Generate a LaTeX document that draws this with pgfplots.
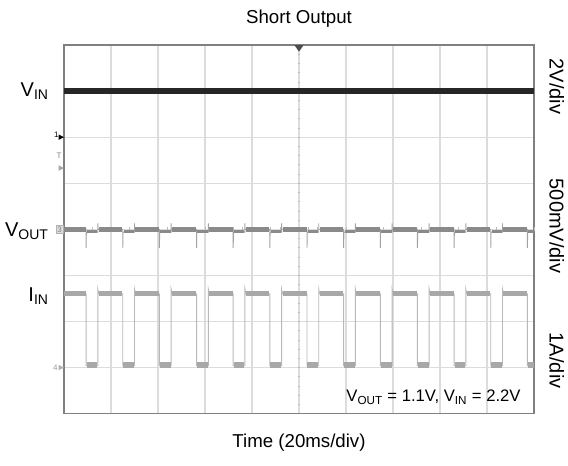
\documentclass[border=0pt]{standalone}
\usepackage{fontspec}
\setmainfont{Liberation Sans}
\usepackage{pgfplots}
\pgfplotsset{compat=1.18}
\definecolor{gridgray}{HTML}{DCDCDC}
\definecolor{framegray}{HTML}{808080}
\definecolor{vinblack}{HTML}{262626}
\definecolor{voutgray}{HTML}{8A8A8A}
\definecolor{iingray}{HTML}{A8A8A8}
\definecolor{edgegray}{HTML}{B8B8B8}

\begin{document}
\begin{tikzpicture}
\begin{axis}[
  name=ax, scale only axis,
  width=352.5pt, height=276.5pt,
  xmin=0, xmax=10, ymin=0, ymax=8,
  xtick={1,...,9}, ytick={1,...,7},
  xticklabels={}, yticklabels={},
  major tick length=0pt,
  grid=major, grid style={gridgray, line width=0.8pt},
  axis line style={framegray, line width=1pt},
  clip=false,
  unbounded coords=jump,
  line cap=butt,
]
% scope centre-line ticks (graticule)
\pgfplotsinvokeforeach{0.2,0.4,...,7.9}{
  \draw[gridgray!85!black, line width=0.5pt] (axis cs:4.97,#1) -- (axis cs:5.03,#1);
}
\pgfplotsinvokeforeach{0.2,0.4,...,9.9}{
  \draw[gridgray!85!black, line width=0.5pt] (axis cs:#1,3.96) -- (axis cs:#1,4.04);
}

% V_IN
\addplot[vinblack, line width=4.2pt] coordinates {(0,7) (10,7)};

% V_OUT thin trace
\addplot[voutgray!80, line width=0.7pt] coordinates {
  (0,4) (0.47,4) (0.47,3.6) (0.475,3.94) (0.72,3.94) (0.72,4.13) (0.72,4)
  (1.25,4) (1.25,3.6) (1.255,3.94) (1.50,3.94) (1.50,4.13) (1.50,4)
  (2.03,4) (2.03,3.6) (2.035,3.94) (2.28,3.94) (2.28,4.13) (2.28,4)
  (2.82,4) (2.82,3.6) (2.825,3.94) (3.07,3.94) (3.07,4.13) (3.07,4)
  (3.60,4) (3.60,3.6) (3.605,3.94) (3.85,3.94) (3.85,4.13) (3.85,4)
  (4.38,4) (4.38,3.6) (4.385,3.94) (4.63,3.94) (4.63,4.13) (4.63,4)
  (5.17,4) (5.17,3.6) (5.175,3.94) (5.42,3.94) (5.42,4.13) (5.42,4)
  (5.95,4) (5.95,3.6) (5.955,3.94) (6.20,3.94) (6.20,4.13) (6.20,4)
  (6.73,4) (6.73,3.6) (6.735,3.94) (6.98,3.94) (6.98,4.13) (6.98,4)
  (7.52,4) (7.52,3.6) (7.525,3.94) (7.77,3.94) (7.77,4.13) (7.77,4)
  (8.30,4) (8.30,3.6) (8.305,3.94) (8.55,3.94) (8.55,4.13) (8.55,4)
  (9.08,4) (9.08,3.6) (9.085,3.94) (9.33,3.94) (9.33,4.13) (9.33,4)
  (9.86,4) (9.86,3.6) (9.865,3.94) (10,3.94)
};
% V_OUT thick band
\addplot[voutgray, line width=3.8pt] coordinates {
  (0,4) (0.46,4) (nan,nan) (0.74,4) (1.24,4) (nan,nan)
  (1.52,4) (2.02,4) (nan,nan) (2.30,4) (2.81,4) (nan,nan)
  (3.09,4) (3.59,4) (nan,nan) (3.87,4) (4.37,4) (nan,nan)
  (4.65,4) (5.16,4) (nan,nan) (5.44,4) (5.94,4) (nan,nan)
  (6.22,4) (6.72,4) (nan,nan) (7.00,4) (7.51,4) (nan,nan)
  (7.79,4) (8.29,4) (nan,nan) (8.57,4) (9.07,4) (nan,nan)
  (9.35,4) (9.85,4)
};
\addplot[voutgray, line width=2.6pt] coordinates {
  (0.49,3.95) (0.71,3.95) (nan,nan) (1.27,3.95) (1.49,3.95) (nan,nan)
  (2.05,3.95) (2.27,3.95) (nan,nan) (2.84,3.95) (3.06,3.95) (nan,nan)
  (3.62,3.95) (3.84,3.95) (nan,nan) (4.40,3.95) (4.62,3.95) (nan,nan)
  (5.19,3.95) (5.41,3.95) (nan,nan) (5.97,3.95) (6.19,3.95) (nan,nan)
  (6.75,3.95) (6.97,3.95) (nan,nan) (7.54,3.95) (7.76,3.95) (nan,nan)
  (8.32,3.95) (8.54,3.95) (nan,nan) (9.10,3.95) (9.32,3.95) (nan,nan)
  (9.88,3.95) (10,3.95)
};

% I_IN thin trace
\addplot[edgegray, line width=0.7pt] coordinates {
  (0,2.6) (0.47,2.6) (0.47,1.04) (0.72,1.04) (0.72,2.7) (0.74,2.6)
  (1.25,2.6) (1.25,1.04) (1.50,1.04) (1.50,2.7) (1.52,2.6)
  (2.03,2.6) (2.03,1.04) (2.28,1.04) (2.28,2.7) (2.30,2.6)
  (2.82,2.6) (2.82,1.04) (3.07,1.04) (3.07,2.7) (3.09,2.6)
  (3.60,2.6) (3.60,1.04) (3.85,1.04) (3.85,2.7) (3.87,2.6)
  (4.38,2.6) (4.38,1.04) (4.63,1.04) (4.63,2.7) (4.65,2.6)
  (5.17,2.6) (5.17,1.04) (5.42,1.04) (5.42,2.7) (5.44,2.6)
  (5.95,2.6) (5.95,1.04) (6.20,1.04) (6.20,2.7) (6.22,2.6)
  (6.73,2.6) (6.73,1.04) (6.98,1.04) (6.98,2.7) (7.00,2.6)
  (7.52,2.6) (7.52,1.04) (7.77,1.04) (7.77,2.7) (7.79,2.6)
  (8.30,2.6) (8.30,1.04) (8.55,1.04) (8.55,2.7) (8.57,2.6)
  (9.08,2.6) (9.08,1.04) (9.33,1.04) (9.33,2.7) (9.35,2.6)
  (9.86,2.6) (9.86,1.04) (10,1.04)
};
% I_IN thick bands
\addplot[iingray, line width=3.8pt] coordinates {
  (0,2.6) (0.46,2.6) (nan,nan) (0.74,2.6) (1.24,2.6) (nan,nan)
  (1.52,2.6) (2.02,2.6) (nan,nan) (2.30,2.6) (2.81,2.6) (nan,nan)
  (3.09,2.6) (3.59,2.6) (nan,nan) (3.87,2.6) (4.37,2.6) (nan,nan)
  (4.65,2.6) (5.16,2.6) (nan,nan) (5.44,2.6) (5.94,2.6) (nan,nan)
  (6.22,2.6) (6.72,2.6) (nan,nan) (7.00,2.6) (7.51,2.6) (nan,nan)
  (7.79,2.6) (8.29,2.6) (nan,nan) (8.57,2.6) (9.07,2.6) (nan,nan)
  (9.35,2.6) (9.85,2.6)
};
\addplot[iingray, line width=4.2pt] coordinates {
  (0.48,1.05) (0.71,1.05) (nan,nan) (1.26,1.05) (1.49,1.05) (nan,nan)
  (2.04,1.05) (2.27,1.05) (nan,nan) (2.83,1.05) (3.06,1.05) (nan,nan)
  (3.61,1.05) (3.84,1.05) (nan,nan) (4.39,1.05) (4.62,1.05) (nan,nan)
  (5.18,1.05) (5.41,1.05) (nan,nan) (5.96,1.05) (6.19,1.05) (nan,nan)
  (6.74,1.05) (6.97,1.05) (nan,nan) (7.53,1.05) (7.76,1.05) (nan,nan)
  (8.31,1.05) (8.54,1.05) (nan,nan) (9.09,1.05) (9.32,1.05) (nan,nan)
  (9.87,1.05) (10,1.05)
};

% channel markers on the left edge
\node[font=\fontsize{6}{7}\selectfont, anchor=east, inner sep=1pt] at (axis cs:-0.08,6.05) {1};
\fill[black] (axis cs:0,6) -- ++(-4pt,2pt) -- ++(0,-4pt) -- cycle;
\node[font=\fontsize{6}{7}\selectfont, text=gray, anchor=east, inner sep=1pt] at (axis cs:-0.02,5.6) {T};
\fill[gray!70] (axis cs:0,5.33) -- ++(-4pt,2pt) -- ++(0,-4pt) -- cycle;
\node[font=\fontsize{6}{7}\selectfont, text=gray, fill=gray!25, draw=gray!60, anchor=east, inner sep=1pt] at (axis cs:-0.01,4) {3};
\node[font=\fontsize{6}{7}\selectfont, text=gray!80, anchor=east, inner sep=1pt] at (axis cs:-0.1,1.0) {4};
\fill[gray!60] (axis cs:0,1) -- ++(-4pt,2pt) -- ++(0,-4pt) -- cycle;
% trigger position marker
\fill[black!70] (axis cs:5,8) ++(-3.5pt,0) -- ++(7pt,0) -- ++(-3.5pt,-5pt) -- cycle;

% channel labels
\node[anchor=east, font=\fontsize{15}{18}\selectfont, inner sep=0pt] at (axis cs:-0.32,7) {V\textsubscript{IN}};
\node[anchor=east, font=\fontsize{15}{18}\selectfont, inner sep=0pt] at (axis cs:-0.32,3.96) {V\textsubscript{OUT}};
\node[anchor=east, font=\fontsize{15}{18}\selectfont, inner sep=0pt] at (axis cs:-0.32,2.56) {I\textsubscript{IN}};

% annotation
\node[anchor=east, font=\fontsize{12.5}{15}\selectfont, inner sep=0pt] at (axis cs:9.72,0.36)
  {V\textsubscript{OUT} = 1.1V, V\textsubscript{IN} = 2.2V};
\end{axis}

% scale labels on the right
\path (ax.south east) ++(17pt,0) coordinate (rr);
\node[rotate=-90, font=\fontsize{15}{18}\selectfont, inner sep=0pt] at ([yshift=7.1*34.56pt]rr) {2V/div};
\node[rotate=-90, font=\fontsize{15}{18}\selectfont, inner sep=0pt] at ([yshift=4.07*34.56pt]rr) {500mV/div};
\node[rotate=-90, font=\fontsize{15}{18}\selectfont, inner sep=0pt] at ([yshift=1.15*34.56pt]rr) {1A/div};

% title and time base
\node[font=\fontsize{14}{17}\selectfont] at ([yshift=20pt]ax.north) {Short Output};
\node[font=\fontsize{14}{17}\selectfont] at ([yshift=-21.5pt]ax.south) {Time (20ms/div)};

\pgfresetboundingbox
\path[use as bounding box] ([shift={(-48pt,-38.6pt)}]ax.south west) rectangle ([shift={(25.5pt,33.75pt)}]ax.north east);
\end{tikzpicture}
\end{document}
